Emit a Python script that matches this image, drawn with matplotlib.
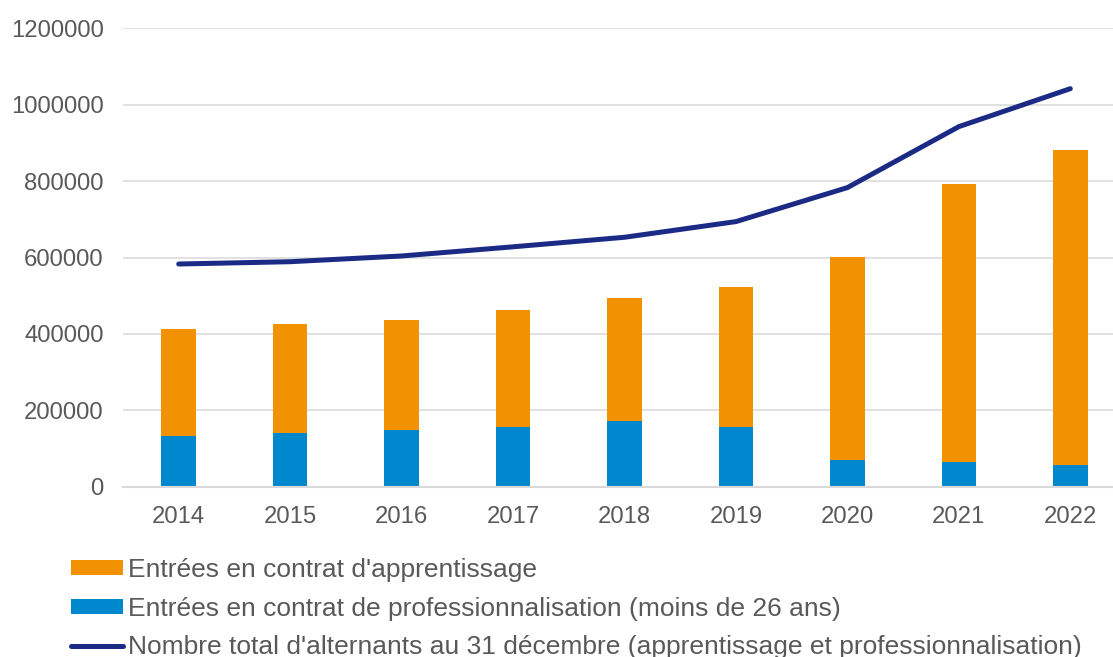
import numpy as np
import matplotlib
matplotlib.use('Agg')
import matplotlib.pyplot as plt

plt.rcParams['font.family'] = ['Liberation Sans', 'DejaVu Sans']

years = ['2014', '2015', '2016', '2017', '2018', '2019', '2020', '2021', '2022']
# entrées en contrat de professionnalisation (moins de 26 ans)
pro = [133500, 140600, 147700, 157000, 173000, 156000, 70000, 64700, 57000]
# entrées en contrat d'apprentissage
appr = [278500, 284400, 288800, 305000, 321000, 367700, 532000, 727900, 824000]
# nombre total d'alternants au 31 décembre
total = [583000, 589000, 604000, 628000, 653000, 694000, 783000, 942600, 1042000]

lab_appr = "Entrées en contrat d'apprentissage"
lab_pro = "Entrées en contrat de professionnalisation (moins de 26 ans)"
lab_tot = "Nombre total d'alternants au 31 décembre (apprentissage et professionnalisation)"

txt = '#595959'
fig = plt.figure(figsize=(11.13, 6.57), dpi=100)
ax = fig.add_axes([0.1105, 0.2592, 0.9012, 0.6977])

x = np.arange(len(years))
w = 0.31
b_appr = ax.bar(x, appr, w, bottom=pro, color='#F39200', zorder=2)
b_pro = ax.bar(x, pro, w, color='#0088CE', zorder=2)
l_tot, = ax.plot(x, total, color='#1B2A84', lw=3.6, solid_capstyle='round',
                 solid_joinstyle='round', zorder=3)

ax.set_xlim(-0.5, len(years) - 0.5)
ax.set_ylim(0, 1200000)
ax.set_yticks(np.arange(0, 1200001, 200000))
ax.set_yticklabels([str(v) for v in range(0, 1200001, 200000)])
ax.set_xticks(x)
ax.set_xticklabels(years)
ax.yaxis.grid(True, color='#D9D9D9', lw=1.1, zorder=0)
ax.set_axisbelow(True)
for s in ['left', 'right', 'top']:
    ax.spines[s].set_visible(False)
ax.spines['bottom'].set_color('#D9D9D9')
ax.spines['bottom'].set_linewidth(1.5)
ax.tick_params(axis='y', length=0, pad=14, labelsize=17.2, labelcolor=txt)
ax.tick_params(axis='x', length=0, pad=14, labelsize=17.2, labelcolor=txt)

leg = fig.legend([b_appr, b_pro, l_tot], [lab_appr, lab_pro, lab_tot],
                 loc='upper left', bbox_to_anchor=(0.0638, 0.151),
                 frameon=False, fontsize=19, labelcolor=txt,
                 handlelength=1.97, handleheight=0.49, handletextpad=0.18,
                 labelspacing=0.56, borderpad=0, borderaxespad=0)

fig.savefig('out.png', dpi=100)
